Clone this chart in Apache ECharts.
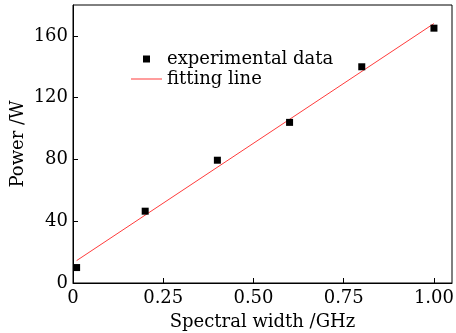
<!DOCTYPE html>
<html>
<head>
<meta charset="utf-8">
<script src="https://cdn.jsdelivr.net/npm/echarts@6/dist/echarts.min.js"></script>
<style>
  html, body { margin: 0; padding: 0; background: #fff; }
  #chart { width: 456px; height: 333px; }
</style>
</head>
<body>
<div id="chart"></div>
<script>
// measured points
const widthGHz = [0.01, 0.2, 0.4, 0.6, 0.8, 1.0];
const powerW = [10, 46.5, 79.5, 104, 140, 165];
// linear fit end points
const fitX = [0.01, 1.0];
const fitY = [14.5, 168];
const xTicks = [0, 0.25, 0.5, 0.75, 1.0];
const yTicks = [0, 40, 80, 120, 160];

const font = 'DejaVu Serif';
const chart = echarts.init(document.getElementById('chart'));

const option = {
    animation: false,
    textStyle: { fontFamily: font },
    grid: {
        left: 73, right: 4, top: 5, bottom: 50,
        outerBoundsMode: 'none',
        show: true, borderColor: '#000', borderWidth: 1
    },
    legend: {
        orient: 'vertical',
        left: 126,
        top: 45,
        itemWidth: 31,
        itemHeight: 7,
        itemGap: 2,
        textStyle: { fontFamily: font, fontSize: 18, color: '#000' },
        data: [
            { name: 'experimental data', icon: 'path://M0,0 M31,7 M12,0 L19,0 L19,7 L12,7 Z' },
            { name: 'fitting line', icon: 'path://M0,0 M31,7 M0,3 L31,3 L31,4 L0,4 Z' }
        ]
    },
    xAxis: {
        type: 'value',
        min: 0,
        max: 1.05,
        name: 'Spectral width /GHz',
        nameLocation: 'middle',
        nameGap: 30,
        nameMoveOverlap: false,
        nameTextStyle: { fontFamily: font, fontSize: 18, color: '#000' },
        splitLine: { show: false },
        axisLine: { lineStyle: { color: '#000' } },
        axisTick: { inside: true, length: 5, customValues: xTicks, lineStyle: { color: '#000' } },
        axisLabel: {
            customValues: xTicks,
            fontFamily: font, fontSize: 18, color: '#000', margin: 6,
            formatter: v => v === 0 ? '0' : v.toFixed(2)
        }
    },
    yAxis: {
        type: 'value',
        min: 0,
        max: 180,
        name: 'Power /W',
        nameLocation: 'middle',
        nameGap: 46,
        nameMoveOverlap: false,
        nameTextStyle: { fontFamily: font, fontSize: 18, color: '#000' },
        splitLine: { show: false },
        axisLine: { show: true, lineStyle: { color: '#000' } },
        axisTick: { show: true, inside: true, length: 5, customValues: yTicks, lineStyle: { color: '#000' } },
        axisLabel: {
            customValues: yTicks,
            fontFamily: font, fontSize: 18, color: '#000', margin: 5
        }
    },
    series: [
        {
            name: 'experimental data',
            type: 'scatter',
            symbol: 'rect',
            symbolSize: 7,
            itemStyle: { color: '#000', opacity: 1 },
            data: widthGHz.map((x, i) => [x, powerW[i]]),
            z: 3
        },
        {
            name: 'fitting line',
            type: 'line',
            symbol: 'none',
            lineStyle: { color: '#ff3b3b', width: 1 },
            itemStyle: { color: '#ff3b3b' },
            data: fitX.map((x, i) => [x, fitY[i]]),
            z: 2
        }
    ]
};

chart.setOption(option);
</script>
</body>
</html>
